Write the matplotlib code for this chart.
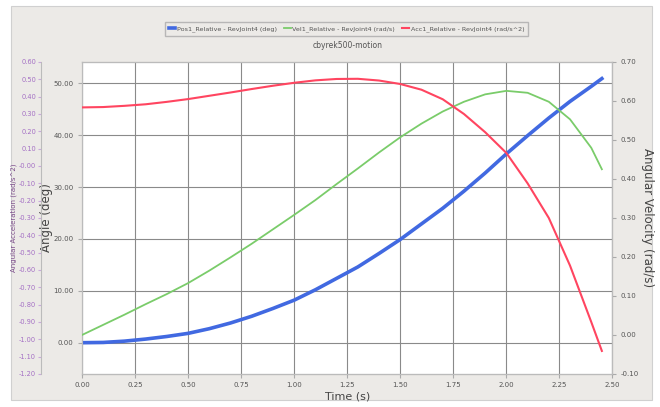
import matplotlib.pyplot as plt
from matplotlib.patches import Rectangle
from matplotlib.ticker import FormatStrFormatter, MultipleLocator

# Werte
time_s = [0.0, 0.1, 0.2, 0.3, 0.4, 0.5, 0.6, 0.7, 0.8, 0.9, 1.0, 1.1, 1.2,
          1.3, 1.4, 1.5, 1.6, 1.7, 1.8, 1.9, 2.0, 2.1, 2.2, 2.3, 2.4, 2.45]
pos_deg = [0.0, 0.05, 0.3, 0.7, 1.2, 1.8, 2.7, 3.8, 5.1, 6.6, 8.2, 10.2, 12.4,
           14.6, 17.2, 19.9, 22.9, 25.9, 29.2, 32.7, 36.4, 39.9, 43.3, 46.5, 49.4, 50.9]
vel_rad = [0.0, 0.026, 0.052, 0.079, 0.105, 0.133, 0.165, 0.199, 0.234, 0.271, 0.308,
           0.346, 0.387, 0.427, 0.468, 0.507, 0.542, 0.573, 0.598, 0.617, 0.626,
           0.621, 0.598, 0.553, 0.48, 0.425]
acc_rad = [0.338, 0.34, 0.347, 0.356, 0.37, 0.386, 0.405, 0.424, 0.444, 0.463, 0.48,
           0.494, 0.502, 0.503, 0.493, 0.473, 0.44, 0.385, 0.30, 0.195, 0.075,
           -0.10, -0.30, -0.575, -0.90, -1.067]

labels = ["Pos1_Relative - RevJoint4 (deg)",
          "Vel1_Relative - RevJoint4 (rad/s)",
          "Acc1_Relative - RevJoint4 (rad/s^2)"]

bg = "#ECEAE7"
txt = "#555555"

fig = plt.figure(figsize=(6.6, 4.07), dpi=100)
fig.patch.set_facecolor("white")
fig.patches.append(Rectangle((0.0167, 0.017), 0.971, 0.968, transform=fig.transFigure,
                             facecolor=bg, edgecolor="#d0d0d0", lw=0.8, zorder=-10))

ax = fig.add_axes([0.1242, 0.0811, 0.8038, 0.7666])
ax.set_facecolor("white")
ax_v = ax.twinx()
ax_a = ax.twinx()
ax_a.yaxis.set_ticks_position("left")
ax_a.yaxis.set_label_position("left")
ax_a.spines["left"].set_position(("outward", 29.5))
ax_a.spines["left"].set_visible(True)

# Achsen
ax.set_xlim(0, 2.5)
ax.set_ylim(-6.03, 54.1)
ax_v.set_ylim(-0.10, 0.70)
ax_a.set_ylim(-1.20, 0.60)

ax.xaxis.set_major_locator(MultipleLocator(0.25))
ax.xaxis.set_major_formatter(FormatStrFormatter("%.2f"))
ax.yaxis.set_major_locator(MultipleLocator(10))
ax.yaxis.set_major_formatter(FormatStrFormatter("%.2f"))
ax_v.yaxis.set_major_locator(MultipleLocator(0.1))
ax_v.yaxis.set_major_formatter(FormatStrFormatter("%.2f"))
ax_a.yaxis.set_major_locator(MultipleLocator(0.1))
ax_a.yaxis.set_major_formatter(FormatStrFormatter("%.2f"))

ax.grid(True, color="#8a8a8a", lw=0.8)
ax.set_axisbelow(True)

for a in (ax, ax_v, ax_a):
    for s in a.spines.values():
        s.set_color("#bbbbbb")
        s.set_linewidth(0.8)
ax.tick_params(axis="both", labelsize=5, colors="#aaaaaa", labelcolor=txt, length=3, pad=3)
ax_v.tick_params(axis="y", labelsize=5, colors="#aaaaaa", labelcolor=txt, length=3, pad=3)
ax_a.tick_params(axis="y", labelsize=4.8, colors="#c9a8dd", labelcolor="#a46fc4",
                 length=2, pad=1.5)

# Kurven
l1, = ax.plot(time_s, pos_deg, color="#4169E1", lw=2.6, label=labels[0], zorder=3)
l2, = ax_v.plot(time_s, vel_rad, color="#7ACC6A", lw=1.3, label=labels[1], zorder=3)
l3, = ax_a.plot(time_s, acc_rad, color="#FF4560", lw=1.5, label=labels[2], zorder=3)

ax.set_xlabel("Time (s)", fontsize=8, color="#444444", labelpad=2)
ax.set_ylabel("Angle (deg)", fontsize=8.5, color="#444444", labelpad=0.5)
ax_v.set_ylabel("Angular Velocity (rad/s)", fontsize=8.5, color="#444444", rotation=270,
                labelpad=11)
ax_a.set_ylabel("Angular Acceleration (rad/s^2)", fontsize=5, color="#7a4a8a", labelpad=1)

ax.set_title("cbyrek500-motion", fontsize=5.5, color=txt, pad=10)

leg = fig.legend(handles=[l1, l2, l3], loc="center", bbox_to_anchor=(0.525, 0.929),
                 ncol=3, fontsize=4.6, frameon=True, handlelength=1.0, columnspacing=1.1,
                 handletextpad=0.3, borderpad=0.6)
leg.get_frame().set_facecolor(bg)
leg.get_frame().set_edgecolor("#aaaaaa")
leg.get_frame().set_boxstyle("square", pad=0)
for t in leg.get_texts():
    t.set_color(txt)

fig.savefig("out.png", dpi=100, facecolor=fig.get_facecolor())
